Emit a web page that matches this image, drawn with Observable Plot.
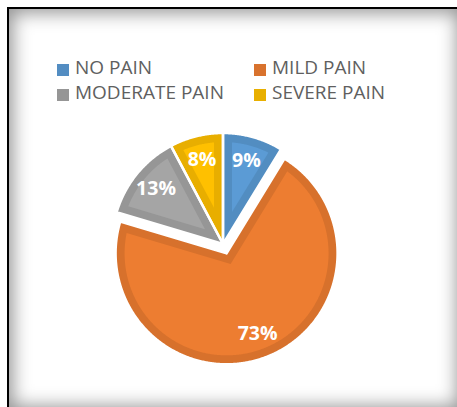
<!DOCTYPE html>
<html><head><meta charset="utf-8">
<script src="https://cdn.jsdelivr.net/npm/d3@7"></script>
<script src="https://cdn.jsdelivr.net/npm/@observablehq/plot@0.6"></script>
<style>
html,body{margin:0;padding:0;width:457px;height:407px;overflow:hidden;background:#fff;}
#frame{position:absolute;left:7px;top:7px;width:456px;height:405px;box-sizing:border-box;border:2.5px solid #000;box-shadow:inset 0 0 18px 4px rgba(0,0,0,0.42);pointer-events:none;z-index:5;}
.sw{position:absolute;width:12px;height:12px;}
.lt{position:absolute;font-family:"Open Sans",sans-serif;font-size:19px;color:#5f5f5f;line-height:19px;white-space:nowrap;}
#chart{position:absolute;left:0;top:115px;}
</style></head><body>
<div id="frame"></div>
<div id="legend"></div>
<div id="chart"></div>
<script>
// Data
const categories = ["NO PAIN", "MILD PAIN", "MODERATE PAIN", "SEVERE PAIN"];
const values = [9, 73, 13, 8];
const labels = ["9%", "73%", "13%", "8%"];
// Palette
const fills = ["#5B9BD5", "#ED7D31", "#A5A5A5", "#FFC000"];
const legendFills = ["#538DC2", "#D8722D", "#969696", "#E8AF00"];

// Legend (two columns, two rows)
const legend = document.getElementById("legend");
categories.forEach((c, i) => {
  const col = i % 2, row = Math.floor(i / 2);
  const sx = col ? 254 : 57, tx = col ? 272 : 75;
  const sw = document.createElement("div");
  sw.className = "sw";
  sw.style.left = sx + "px"; sw.style.top = (64 + row * 25) + "px";
  sw.style.background = legendFills[i];
  legend.appendChild(sw);
  const t = document.createElement("div");
  t.className = "lt";
  t.style.left = tx + "px"; t.style.top = (58 + row * 25) + "px";
  t.textContent = c;
  legend.appendChild(t);
});

// Pie geometry (derived from values)
const total = d3.sum(values);
const R = 111, BAND = 9, EXPLODE = 10, LABEL_R = 0.78;
const exploded = "MILD PAIN";
const dir = a => [Math.sin(a), Math.cos(a)];
let acc = 0;
const slices = categories.map((c, i) => {
  const a0 = acc / total * 2 * Math.PI; acc += values[i];
  const a1 = acc / total * 2 * Math.PI;
  const mid = (a0 + a1) / 2;
  const e = c === exploded ? EXPLODE : 0;
  const [ux, uy] = dir(mid);
  return {c, i, a0, a1, mid, ux, uy, ox: e * ux, oy: e * uy};
});
const STEP = Math.PI / 360;
function arcPts(c, cx, cy, r, b0, b1) {
  const n = Math.max(2, Math.ceil((b1 - b0) / STEP));
  const pts = [];
  for (let k = 0; k <= n; k++) {
    const [dx, dy] = dir(b0 + (b1 - b0) * k / n);
    pts.push({c, x: cx + r * dx, y: cy + r * dy});
  }
  return pts;
}
const outer = [], inner = [];
for (const s of slices) {
  outer.push({c: s.c, x: s.ox, y: s.oy}, ...arcPts(s.c, s.ox, s.oy, R, s.a0, s.a1), {c: s.c, x: s.ox, y: s.oy});
  const shift = BAND / Math.sin((s.a1 - s.a0) / 2);
  const R2 = R - BAND, d = Math.asin(BAND / R2);
  const ax = s.ox + shift * s.ux, ay = s.oy + shift * s.uy;
  inner.push({c: s.c, x: ax, y: ay}, ...arcPts(s.c, s.ox, s.oy, R2, s.a0 + d, s.a1 - d), {c: s.c, x: ax, y: ay});
}
const labelData = slices.map(s => ({
  label: labels[s.i],
  x: s.ox + LABEL_R * R * s.ux,
  y: s.oy + LABEL_R * R * s.uy
}));

const W = 457, H = 270, CX = 222.5, CY = 128.5;
const plot = Plot.plot({
  width: W, height: H, margin: 0,
  x: {domain: [-CX, W - CX], range: [0, W], axis: null},
  y: {domain: [-(H - CY), CY], range: [H, 0], axis: null},
  color: {domain: categories, range: fills},
  style: {background: "transparent", overflow: "visible"},
  marks: [
    Plot.line(outer, {x: "x", y: "y", z: "c", fill: "c", stroke: "none"}),
    Plot.line(outer, {x: "x", y: "y", z: "c", fill: "black", fillOpacity: 0.09, stroke: "none"}),
    Plot.line(inner, {x: "x", y: "y", z: "c", fill: "c", stroke: "none"}),
    Plot.line(outer, {x: "x", y: "y", z: "c", stroke: "white", strokeWidth: 2.5, strokeLinejoin: "round"}),
    Plot.text(labelData, {x: "x", y: "y", text: "label", fill: "white", fontWeight: "bold", fontSize: 19.5, fontFamily: "Open Sans"})
  ]
});
document.getElementById("chart").appendChild(plot);
</script></body></html>
